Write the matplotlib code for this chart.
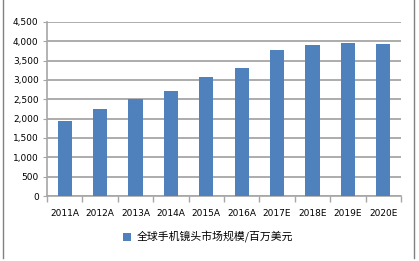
import matplotlib
matplotlib.use("Agg")
import matplotlib.pyplot as plt
from matplotlib.lines import Line2D
from matplotlib.ticker import FuncFormatter, MultipleLocator

plt.rcParams['font.family'] = ['DejaVu Sans', 'Noto Sans CJK SC']

categories = ["2011A", "2012A", "2013A", "2014A", "2015A", "2016A",
              "2017E", "2018E", "2019E", "2020E"]
values = [1940, 2250, 2505, 2720, 3075, 3310, 3775, 3905, 3955, 3930]
series_name = "全球手机镜头市场规模/百万美元"

W, H = 419, 261
fig = plt.figure(figsize=(W / 100, H / 100), dpi=100)
ax = fig.add_axes([47 / W, 1 - 196 / H, (401 - 47) / W, (196 - 22) / H])

x = list(range(len(categories)))
ax.bar(x, values, width=0.4, color="#4F81BD", zorder=3, label=series_name)
ax.set_xlim(-0.5, len(categories) - 0.5)
ax.set_ylim(0, 4500)
ax.yaxis.set_major_locator(MultipleLocator(500))
ax.yaxis.set_major_formatter(FuncFormatter(lambda v, p: f"{int(v):,}"))
ax.grid(axis="y", color="#A6A6A6", linewidth=1.3, zorder=0)
ax.set_axisbelow(True)

ax.set_xticks(x)
ax.set_xticklabels(categories)
ax.set_xticks([i + 0.5 for i in range(-1, len(categories))], minor=True)
ax.tick_params(axis="x", which="major", length=0, labelsize=6.5, pad=9, colors="#000000")
ax.tick_params(axis="x", which="minor", length=4, color="#A6A6A6", width=1)
ax.tick_params(axis="y", length=3, color="#A6A6A6", labelsize=6.5, pad=3)

for s in ["top", "right"]:
    ax.spines[s].set_visible(False)
ax.spines["left"].set_color("#A6A6A6")
ax.spines["bottom"].set_color("#A6A6A6")
ax.spines["left"].set_linewidth(1.2)
ax.spines["bottom"].set_linewidth(1.2)

leg = fig.legend(loc="center", bbox_to_anchor=(208 / W, 1 - 237 / H), frameon=False,
                 prop={'family': ['Noto Sans CJK SC', 'DejaVu Sans'], 'size': 7.8},
                 handlelength=0.7, handleheight=0.7, handletextpad=0.5)

# outer chart border
fig.add_artist(Line2D([3 / W, 3 / W], [1 - 258 / H, 1], transform=fig.transFigure,
                      color="#808080", linewidth=1))
fig.add_artist(Line2D([414 / W, 414 / W], [1 - 258 / H, 1], transform=fig.transFigure,
                      color="#808080", linewidth=1))

fig.savefig("out.png", dpi=100)
